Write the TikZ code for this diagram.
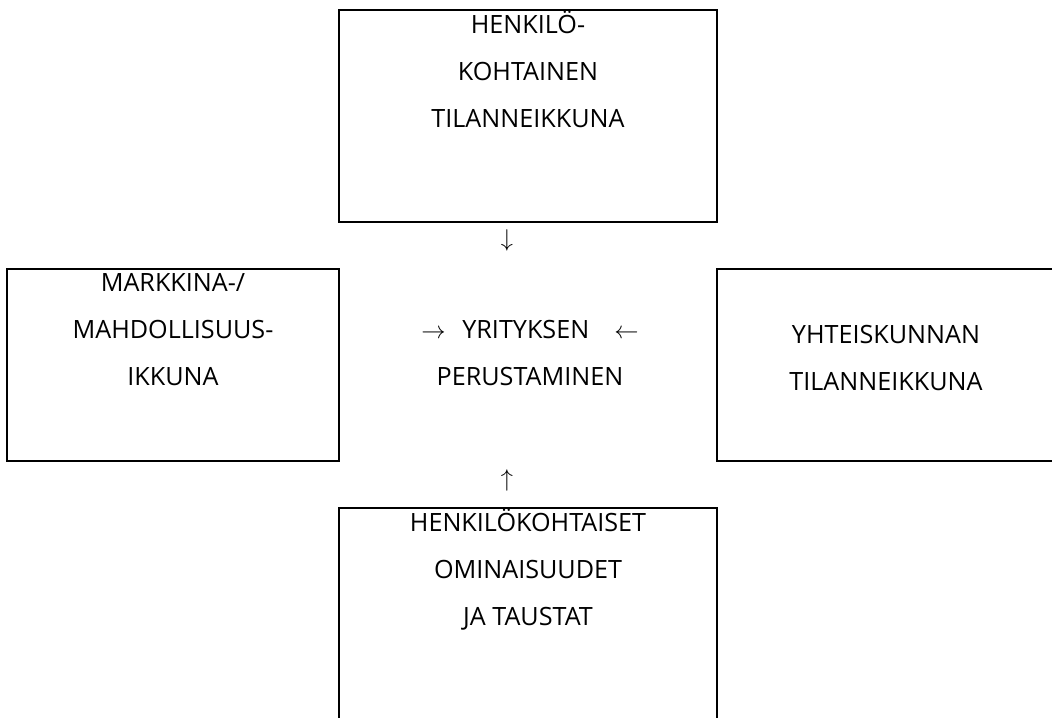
\documentclass[tikz,border=0pt]{standalone}
\usepackage{fontspec}
\setmainfont{Open Sans}
\usetikzlibrary{positioning}
\tikzset{
  ikkuna/.style={draw,line width=1.5pt,inner sep=0pt},
  teksti/.style={align=center,anchor=base,inner sep=0pt,
    font=\fontsize{17.9}{33.1}\selectfont},
  nuoli/.style={inner sep=0pt,font=\fontsize{19}{20}\selectfont}
}

\begin{document}
\begin{tikzpicture}[x=0.025cm,y=-0.025cm]
\useasboundingbox (0,0) rectangle (1052,717);
\clip (0,0) rectangle (1052,717);
% ikkunat
\node[ikkuna,minimum width=9.45cm,minimum height=5.3cm] (henkilo) at (528,116) {};
\node[ikkuna,minimum width=8.3cm,minimum height=4.8cm] (markkina) at (173,365) {};
\node[ikkuna,minimum width=8.45cm,minimum height=4.8cm] (yhteis) at (886,365) {};
\node[ikkuna,minimum width=9.45cm,minimum height=5.8cm] (tausta) at (528,624) {};
% tekstit (base = viimeisen rivin perusviiva)
\node[teksti] (henkiloT) at (528,127) {HENKILÖ-\\KOHTAINEN\\TILANNEIKKUNA};
\node[teksti] (markkinaT) at (173,385) {MARKKINA-/\\MAHDOLLISUUS-\\IKKUNA};
\node[teksti] (yhteisT) at (886,390) {YHTEISKUNNAN\\TILANNEIKKUNA};
\node[teksti] (taustaT) at (528,625) {HENKILÖKOHTAISET\\OMINAISUUDET\\JA TAUSTAT};
\node[teksti] (keski) at (530,385) {$\rightarrow$\enspace\,YRITYKSEN\enspace\enspace$\leftarrow$\\PERUSTAMINEN};
% nuolet
\node[nuoli] (alas) at (507,240) {$\downarrow$};
\node[nuoli] (ylos) at (507,480) {$\uparrow$};
\end{tikzpicture}
\end{document}
